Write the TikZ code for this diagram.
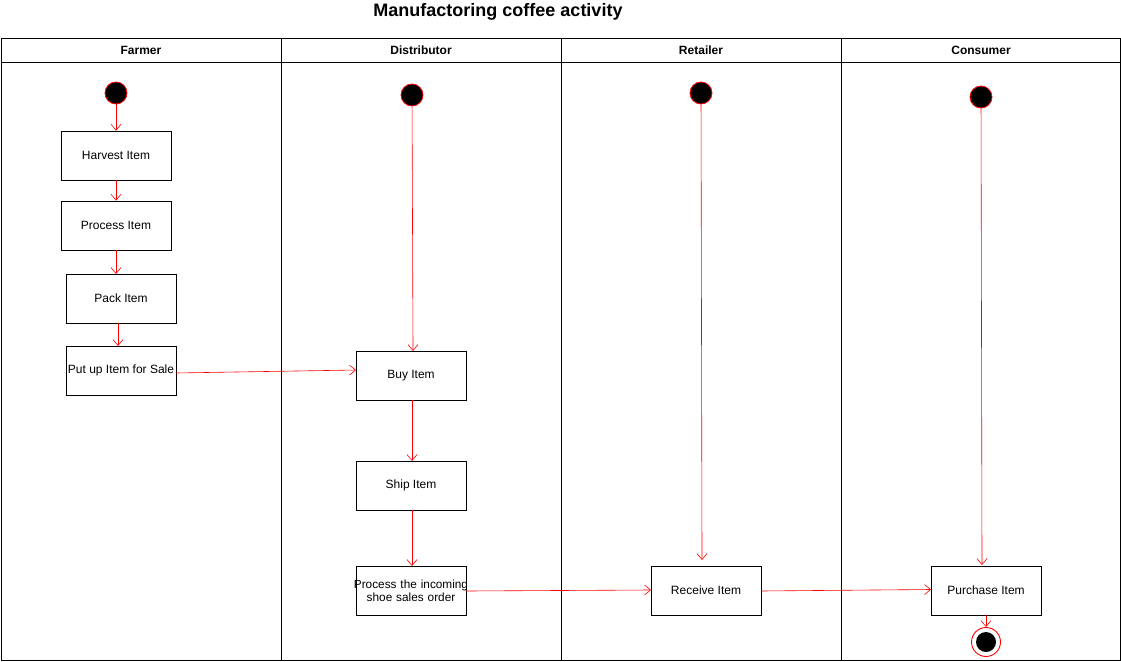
\documentclass[tikz,border=0pt]{standalone}
\usepackage{fontspec}
\setmainfont{Liberation Sans}
\usetikzlibrary{arrows.meta}
\begin{document}
\begin{tikzpicture}[x=1pt,y=-1pt,
  flow/.style={draw=red, line width=0.6pt, -{Straight Barb[length=6pt,width=10pt,line width=0.6pt]}},
  act/.style={draw=black, line width=0.7pt, minimum width=110pt, minimum height=49pt, inner sep=0pt, align=center, font=\fontsize{12}{13}\selectfont},
  startnode/.style={circle, fill=black, draw=red, line width=0.8pt, minimum size=22pt, inner sep=0pt},
  lane/.style={draw=black, line width=0.8pt},
  hdr/.style={font=\bfseries\fontsize{12}{14}\selectfont}]
\useasboundingbox (0,0) rectangle (1121,661);
% title
\node[font=\bfseries\fontsize{18}{21}\selectfont] (title) at (498,12) {Manufactoring coffee activity};
% pool
\draw[lane] (1,38) rectangle (1120,660);
\draw[lane] (1,62) -- (1120,62);
\foreach \x in {281,561,841} \draw[lane] (\x,38) -- (\x,660);
\node[hdr] (h1) at (141,50) {Farmer};
\node[hdr] (h2) at (421,50) {Distributor};
\node[hdr] (h3) at (701,50) {Retailer};
\node[hdr] (h4) at (981,50) {Consumer};
% Farmer
\node[startnode] (s1) at (116,93) {};
\node[act] (harvest) at (116,155.5) {Harvest Item};
\node[act] (process) at (116,225.5) {Process Item};
\node[act] (pack) at (121,298.5) {Pack Item};
\node[act] (putup) at (121,370.5) {Put up Item for Sale};
\draw[flow] (s1) -- (harvest);
\draw[flow] (harvest) -- (process);
\draw[flow] (116,250) -- (116,274);
\draw[flow] (118,323) -- (118,346);
% Distributor
\node[startnode] (s2) at (412,95) {};
\node[act] (buy) at (411,375.5) {Buy Item};
\node[act] (ship) at (411,485.5) {Ship Item};
\node[act, text width=110pt, font=\fontsize{11.8}{13}\selectfont] (order) at (411,590.5) {\hbox to 110pt{\hss Process the incoming\hss}\\shoe sales order};
\coordinate (buytop) at (413,351);
\draw[flow] (s2) -- (buytop);
\coordinate (pu) at (176,373);
\coordinate (bu) at (356,370);
\draw[flow] (pu) -- (bu);
\draw[flow] (412,400) -- (412,461);
\draw[flow] (412,510) -- (412,566);
% Retailer
\node[startnode] (s3) at (701,93) {};
\node[act] (receive) at (706,590.5) {Receive Item};
\coordinate (r1) at (702,560);
\draw[flow] (s3) -- (r1);
\coordinate (oe) at (466,591);
\coordinate (rw) at (651,590);
\draw[flow] (oe) -- (rw);
% Consumer
\node[startnode] (s4) at (981,97) {};
\node[act] (purchase) at (986,590.5) {Purchase Item};
\coordinate (c1) at (982,565);
\draw[flow] (s4) -- (c1);
\coordinate (re) at (761,591);
\coordinate (pw) at (931,589.5);
\draw[flow] (re) -- (pw);
\node[circle, draw=red, line width=0.9pt, fill=white, minimum size=29pt, inner sep=0pt] (endo) at (986,642) {};
\node[circle, fill=black, minimum size=20pt, inner sep=0pt] (endi) at (986,642) {};
\draw[flow] (purchase.south) -- (endo.north);
\end{tikzpicture}
\end{document}
